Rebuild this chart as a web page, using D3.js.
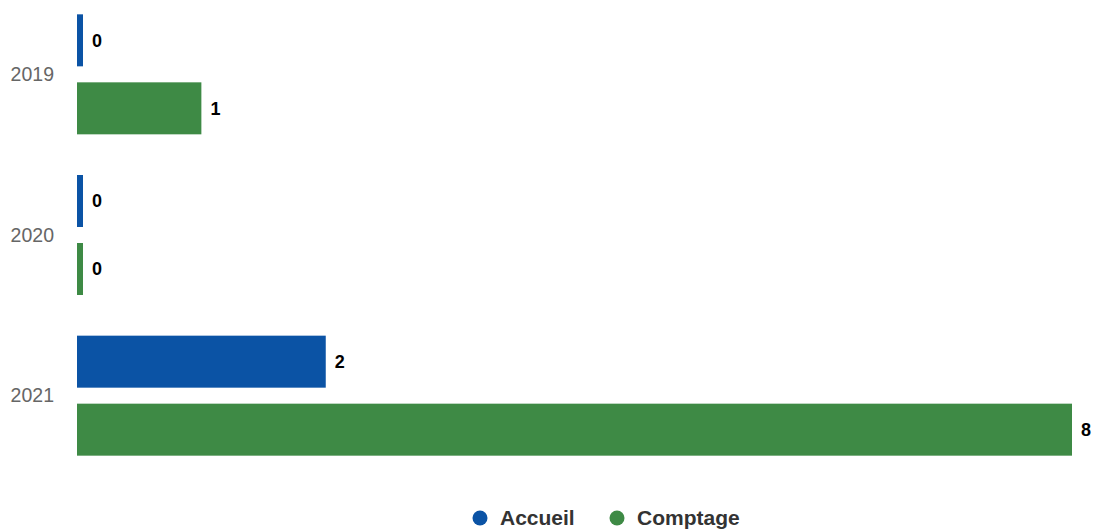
<!DOCTYPE html>
<html><head><meta charset="utf-8">
<script src="https://cdn.jsdelivr.net/npm/d3@7"></script>
<style>body{margin:0;background:#fff}svg{display:block;font-family:"Liberation Sans",Arial,sans-serif}</style>
</head><body>
<svg id="c" width="1093" height="532"></svg>
<script>
const categories = ["2019", "2020", "2021"];
const seriesNames = ["Accueil", "Comptage"];
const accueil = [0, 0, 2];
const comptage = [1, 0, 8];
const colors = ["#0b53a5", "#3e8a45"];

const svg = d3.select("#c");
const x = d3.scaleLinear().domain([0, 8]).range([77, 1072]);
const y = d3.scaleBand().domain(categories).range([-6, 476]);
const bw = y.bandwidth();
const inner = d3.scaleBand().domain(seriesNames).range([bw / 2 - 60, bw / 2 + 60]).paddingInner(16 / 68);
const minLen = 6;

const series = [accueil, comptage];
categories.forEach((cat, i) => {
  const g = svg.append("g").attr("transform", `translate(0,${y(cat)})`);
  seriesNames.forEach((s, j) => {
    const v = series[j][i];
    const w = Math.max(x(v) - x(0), minLen);
    g.append("rect").attr("x", x(0)).attr("y", inner(s))
      .attr("width", w).attr("height", inner.bandwidth()).attr("fill", colors[j]);
    g.append("text").attr("x", x(0) + w + 9).attr("y", inner(s) + inner.bandwidth() / 2)
      .attr("dy", "0.35em").attr("font-size", 18).attr("font-weight", "bold")
      .attr("fill", "#000").text(v);
  });
  svg.append("text").attr("x", 54).attr("y", y(cat) + bw / 2)
    .attr("dy", "0.35em").attr("text-anchor", "end").attr("font-size", 19.5)
    .attr("fill", "#666").text(cat);
});

const legend = svg.append("g");
const lx = [480, 617];
seriesNames.forEach((s, j) => {
  legend.append("circle").attr("cx", lx[j]).attr("cy", 518).attr("r", 7.5).attr("fill", colors[j]);
  legend.append("text").attr("x", lx[j] + 20).attr("y", 518).attr("dy", "0.35em")
    .attr("font-size", 21).attr("font-weight", "bold").attr("fill", "#333").text(s);
});
</script>
</body></html>
